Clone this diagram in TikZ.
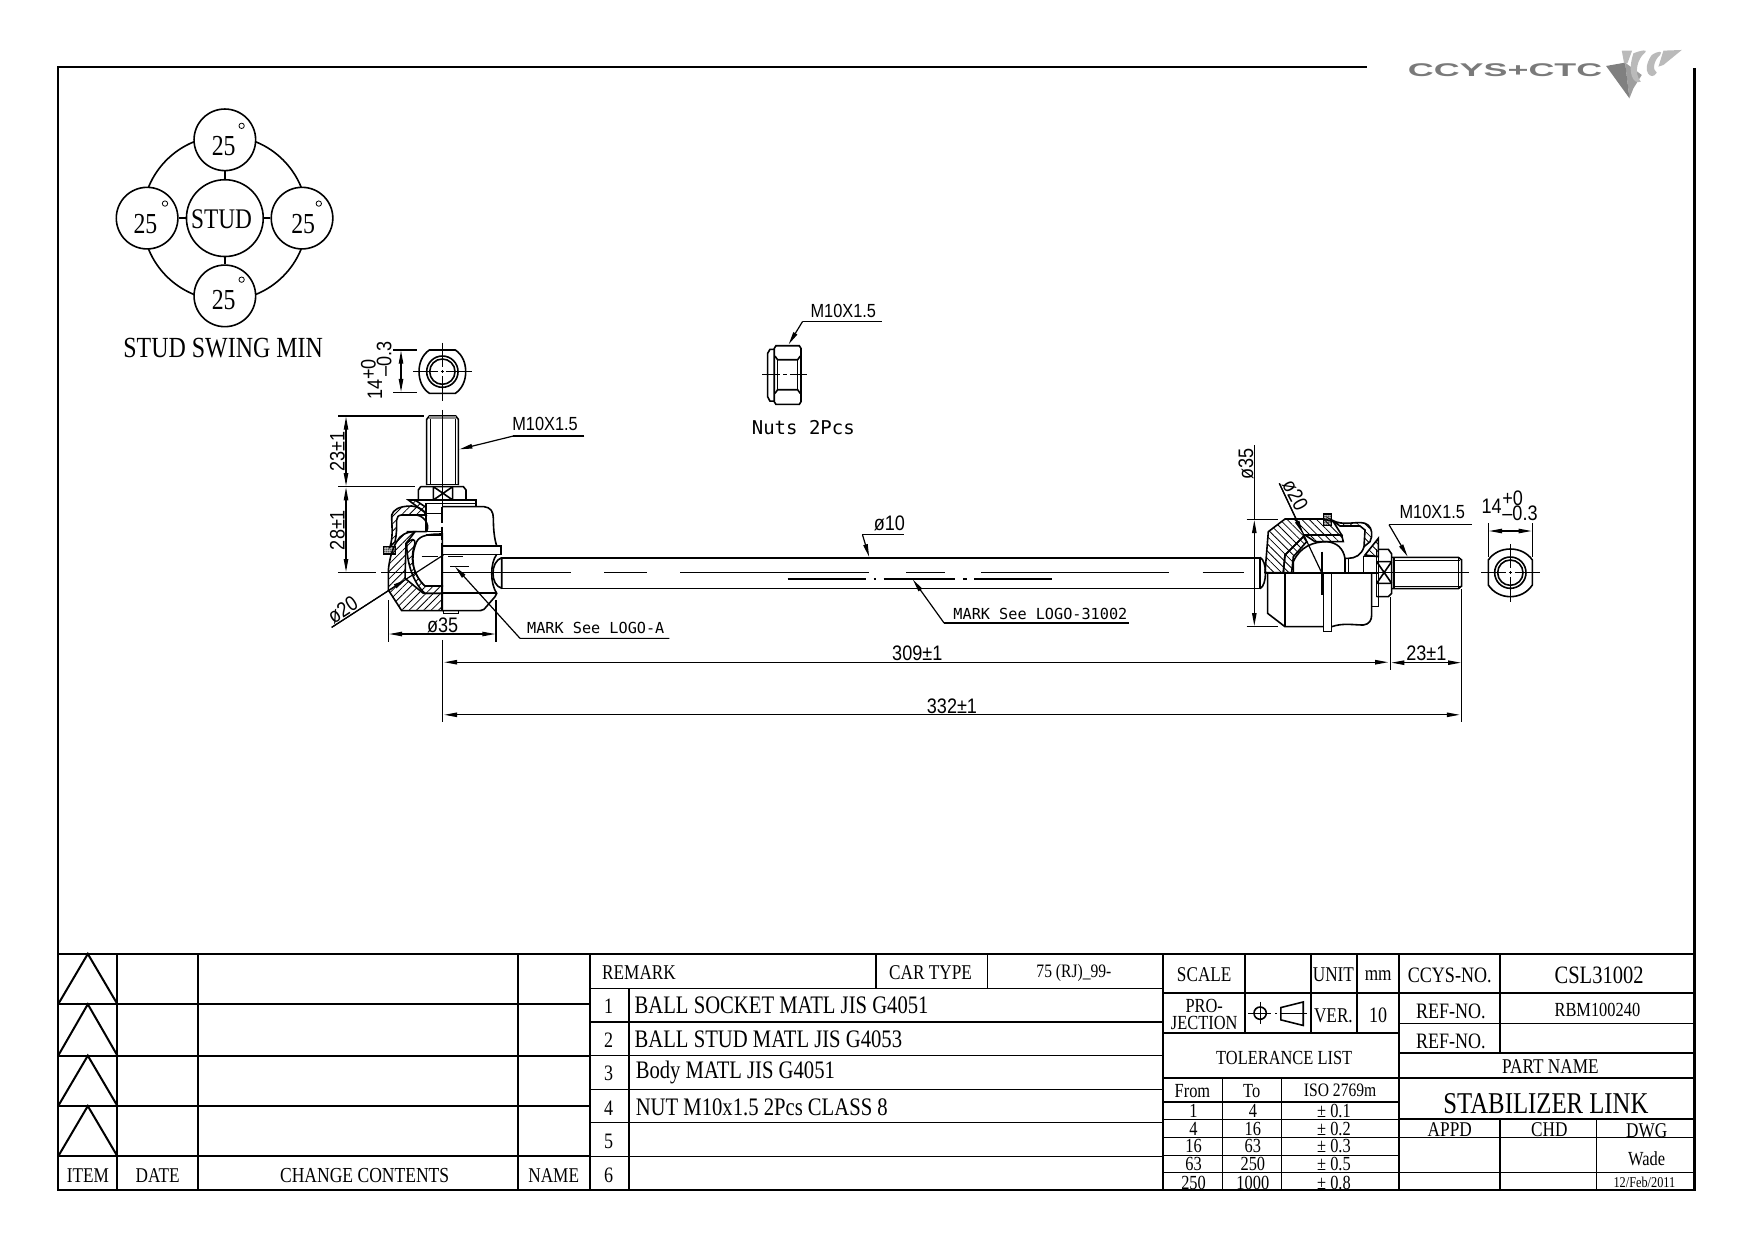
\documentclass[tikz,border=0pt]{standalone}
\usepackage{fontspec}
\setmainfont[FakeStretch=0.82]{Liberation Serif}
\newfontfamily\cadfont{DejaVu Sans Mono}
\newfontfamily\dimfont[FakeStretch=0.86]{Liberation Sans}
\newfontfamily\logofont[FakeStretch=1.95]{Liberation Sans}
\usetikzlibrary{arrows.meta,patterns,patterns.meta}
\tikzset{
 frameln/.style={line width=1.3pt,black},
 tbl/.style={line width=1pt,black},
 tblthin/.style={line width=.7pt,black},
 part/.style={line width=.8pt,black},
 thin part/.style={line width=.5pt,black},
 bold part/.style={line width=1pt,black},
 hatchA/.style={part,pattern={Lines[angle=45,distance=2.6pt,line width=.4pt]}},
 hatchB/.style={part,pattern={Lines[angle=-45,distance=2.6pt,line width=.4pt]}},
 sealfill/.style={draw=black,line width=.8pt,pattern={Lines[angle=0,distance=.9pt,line width=.55pt]}},
 dimln/.style={line width=.6pt,black},
 dimarr/.style={dimln,{Triangle[length=6.5pt,width=2.2pt]}-{Triangle[length=6.5pt,width=2.2pt]}},
 leadarr/.style={dimln,-{Triangle[length=6.5pt,width=2.2pt]}},
 centreln/.style={line width=.55pt,black},
 sz/.style={font=\fontsize{#1}{#1}\selectfont,inner sep=0pt},
 cad/.style={font=\dimfont\fontsize{#1}{#1}\selectfont,inner sep=0pt},
 mono/.style={font=\cadfont\fontsize{#1}{#1}\selectfont,inner sep=0pt},
 zoomA/.style={shift={(268.2,295)},scale=.298},
 zoomB/.style={shift={(1090.6,384.4)},scale=.298},
 zoomC/.style={shift={(643.6,259.3)},scale=.298},
 zoomD/.style={shift={(1251.6,26.8)},scale=.298},
 ring/.style={draw,circle,line width=.8pt,fill=white,inner sep=0pt},
}
\begin{document}
\begin{tikzpicture}[x=.55931pt,y=-.55931pt]
\useasboundingbox (0,0) rectangle (1568,1108.47);

% ---------- frame
\draw[frameln] (1222,60) -- (52,60) -- (52,1063.7) -- (1515,1063.7) -- (1515,61);
\draw[frameln] (52,852.7) -- (1515,852.7);

% ---------- logo
\begin{scope}[zoomD]
 \fill[black!38] (675,98) -- (725,135) -- (700,175) -- (688,205) -- cycle;
 \fill[black!50] (618,108) -- (675,98) -- (688,205) -- cycle;
 \fill[black!27] (665,62) -- (696,62) -- (682,100) -- (672,100) -- cycle;
 \fill[black!27] (700,70) .. controls (725,60) and (745,58) .. (735,68) .. controls (712,85) and (700,130) .. (722,155) .. controls (700,165) and (680,130) .. (700,70) -- cycle;
 \fill[black!27] (755,75) .. controls (775,62) and (790,62) .. (780,75) .. controls (762,90) and (755,120) .. (770,128) .. controls (755,155) and (720,125) .. (755,75) -- cycle;
 \fill[black!27] (790,62) -- (845,60) -- (790,105) -- (775,110) -- (785,78) -- cycle;
 \node[text=black!52,font=\logofont\bfseries\fontsize{9.2}{9.2}\selectfont,inner sep=0pt] (logotext) at (315,122) {CCYS+CTC};
\end{scope}

% ---------- stud swing
\draw[line width=.8pt] (201,195) circle[radius=73.6];
\node[ring,minimum size=38.4pt] (stud) at (201,195) {};
\node[ring,minimum size=30.8pt] (top) at (201,125) {};
\node[ring,minimum size=30.8pt] (bot) at (201,264.5) {};
\node[ring,minimum size=30.8pt] (lft) at (131.5,195) {};
\node[ring,minimum size=30.8pt] (rgt) at (270,195) {};
\draw[line width=.8pt] (stud) -- (top) (stud) -- (bot) (stud) -- (lft) (stud) -- (rgt);
\node[sz=14.2] (studtxt) at (198,196) {STUD};
\node[sz=14.5] (t25a) at (200,131) {25};
\node[sz=14.5] (t25b) at (200,268) {25};
\node[sz=14.5] (t25c) at (130,200) {25};
\node[sz=14.5] (t25d) at (271,200) {25};
\foreach \p in {(216,112.5),(216,250),(147.5,182),(285,182)}
  \draw[line width=.4pt] \p circle[radius=2.4];
\node[sz=14.6] (swing) at (199.5,311.5) {STUD SWING MIN};

% ---------- rod and main centre line
\draw[part] (448,499) -- (1126,499) (448,526) -- (1126,526);
\foreach \a/\b in {302/336,341/510,540/578,608/777,810/845,877/1045,1075/1112,1130/1313}
  \draw[centreln] (\a,512) -- (\b,512);
\foreach \a/\b in {704/774,781/783,790/854,861/864,871/940}
  \draw[centreln] (\a,517.6) -- (\b,517.6);

% ---------- left ball joint
\begin{scope}[zoomA]
 % top nut view
 \draw[part] (388,60) -- (466,60) .. controls (488,75) and (497,100) .. (497,125) .. controls (497,150) and (488,175) .. (466,190) -- (388,190) .. controls (366,175) and (357,150) .. (357,125) .. controls (357,100) and (366,75) .. (388,60) -- cycle;
 \draw[part] (427,125) circle[radius=47];
 \draw[part] (427,125) circle[radius=38];
 \draw[thin part] (340,125) -- (415,125) (422,125) -- (432,125) (439,125) -- (515,125);
 \draw[thin part] (427,38) -- (427,112) (427,120) -- (427,130) (427,138) -- (427,212);
 \draw[dimln] (280,60) -- (350,60) (280,188) -- (350,188);
 \draw[dimarr] (303,62) -- (303,186);
 \node[cad=10.5,rotate=90] (lt14) at (225,178) {14};
 \node[cad=10.5,rotate=90] (ltp) at (205,118) {+0};
 \node[cad=10.5,rotate=90] (ltm) at (252,88) {–0.3};
 % stud
 \draw[part] (380,465) -- (380,268) -- (388,258) -- (467,258) -- (475,268) -- (475,465);
 \fill[black!45] (386,259) rectangle (469,268);
 \draw[thin part] (390,268) -- (390,465) (465,268) -- (465,465) (380,462) -- (475,462);
 % nut and collar
 \draw[part] (362,470) -- (490,470) -- (498,480) -- (498,510) (355,510) -- (355,480) -- (362,470);
 \draw[part] (400,470) -- (400,510) (458,470) -- (458,510) (400,470) -- (458,510) (458,470) -- (400,510);
 \draw[part] (345,510) -- (528,510) -- (528,530);
 \draw[hatchA] (325,510) -- (345,510) -- (378,532) -- (378,550) -- cycle;
 % outside half
 \draw[part] (427,530) -- (552,530) .. controls (572,532) and (580,545) .. (580,565) .. controls (580,600) and (583,625) .. (590,648);
 \draw[part,fill=white] (427,648) rectangle (603,673);
 \draw[part] (590,673) .. controls (570,700) and (570,760) .. (590,790) -- (585,800) -- (552,838) .. controls (545,842) and (540,842) .. (530,842) -- (427,842);
 \draw[bold part] (427,790) -- (590,790);
 \draw[part] (430,842) -- (430,850) -- (475,850) -- (475,842);
 % rod neck
 \draw[part] (605,683) .. controls (570,695) and (570,765) .. (605,775) (605,683) -- (605,775);
 % section half
 \draw[hatchA] (427,842) -- (305,842) -- (265,780) -- (265,720) .. controls (268,690) and (275,660) .. (290,635) .. controls (300,615) and (320,605) .. (345,605) -- (330,625) -- (318,640) -- (315,745) -- (370,790) -- (427,790) -- cycle;
 \draw[hatchA] (320,640) .. controls (320,700) and (340,760) .. (375,790) -- (427,790) -- (427,768) -- (375,768) .. controls (335,730) and (330,680) .. (345,640) .. controls (345,625) and (335,625) .. (320,640) -- cycle;
 \draw[part,fill=white] (427,612) .. controls (390,612) and (360,615) .. (350,635) .. controls (330,680) and (335,730) .. (375,768) -- (427,768) -- cycle;
 \draw[hatchA] (275,555) .. controls (280,540) and (295,528) .. (335,528) .. controls (355,530) and (375,540) .. (378,555) -- (350,555) -- (305,555) .. controls (295,555) and (290,562) .. (290,570) .. controls (290,590) and (290,615) .. (285,635) -- (270,650) .. controls (280,620) and (275,590) .. (275,555) -- cycle;
 \draw[part] (350,555) .. controls (380,560) and (390,595) .. (378,605) -- (320,605);
 \draw[part] (378,520) -- (528,520) (378,520) -- (378,605) -- (427,605) (378,615) -- (427,615) (378,550) -- (427,550);
 \draw[sealfill] (250,650) rectangle (287,672);
 \draw[bold part] (427,530) -- (427,580) (427,590) -- (427,630) (427,640) -- (427,842);
 \draw[thin part] (427,240) -- (427,530);
 \draw[thin part] (365,678) -- (413,678) (445,678) -- (490,678) (450,710) -- (507,710);
 % dimensions
 \draw[dimln] (115,258) -- (372,258) (115,470) -- (345,470);
 \draw[dimarr] (138,260) -- (138,468);
 \draw[dimarr] (138,472) -- (138,726);
 \node[cad=10.5,rotate=90] (d23a) at (112,365) {23±1};
 \node[cad=10.5,rotate=90] (d28) at (112,600) {28±1};
 \coordinate (la) at (478,358); \coordinate (lb) at (640,318); \coordinate (lc) at (853,318);
 \draw[dimln] (lc) -- (lb); \draw[leadarr] (lb) -- (la);
 \node[cad=9.5] (m10a) at (735,283) {M10X1.5};
 \coordinate (fa) at (95,892); \coordinate (fb) at (430,675); \coordinate (fc) at (318,748);
 \draw[dimln] (fa) -- (fb); \draw[leadarr] (fa) -- (fc);
 \node[cad=10.5,rotate=33] (f20a) at (128,840) {ø20};
 \draw[dimln] (265,810) -- (265,935) (588,810) -- (588,935);
 \draw[dimarr] (267,912) -- (586,912);
 \node[cad=10.5] (f35a) at (428,885) {ø35};
 \coordinate (ma) at (465,710); \coordinate (mb) at (660,925);
 \draw[leadarr] (mb) -- (ma);
 \draw[dimln] (mb) -- (1108,925);
 \node[mono=7.6,anchor=west] (marka) at (680,893) {MARK See LOGO-A};
\end{scope}

% ---------- right ball joint
\begin{scope}[zoomB]
 % lower outside
 \draw[part] (143,428) -- (143,550) -- (195,590) -- (310,590);
 \draw[part] (195,428) -- (195,590);
 \draw[part,fill=white] (310,428) rectangle (335,605);
 \draw[part] (335,590) .. controls (370,578) and (400,585) .. (430,585) .. controls (448,583) and (455,570) .. (455,555) -- (455,428);
 % rod neck
 \draw[part] (120,382) .. controls (142,392) and (142,466) .. (120,476) (120,382) -- (120,476);
 % upper section
 \draw[hatchB] (135,428) -- (145,305) -- (195,267) -- (312,267) -- (340,275) -- (365,315) -- (255,315) -- (195,375) -- (190,428) -- cycle;
 \draw[hatchB] (190,428) -- (195,375) -- (250,320) -- (260,335) -- (220,380) -- (215,428) -- cycle;
 \draw[hatchB] (255,315) -- (365,315) -- (370,335) -- (285,335) -- cycle;
 \draw[part] (220,428) -- (220,395) .. controls (240,350) and (280,335) .. (320,335) .. controls (350,337) and (370,355) .. (375,385) -- (375,428);
 \draw[hatchB] (335,270) .. controls (370,290) and (410,272) .. (435,280) .. controls (450,285) and (457,300) .. (455,320) -- (450,335) -- (432,350) -- (435,300) -- (420,288) -- (360,288) -- cycle;
 \draw[part] (432,350) .. controls (425,375) and (405,385) .. (385,385) -- (375,385);
 \draw[hatchB] (435,375) -- (475,325) -- (475,380) -- cycle;
 \draw[part] (385,385) -- (385,428) (430,380) -- (465,380) (430,380) -- (430,428) (475,380) -- (475,530) -- (455,530);
 \draw[sealfill] (310,252) rectangle (335,287);
 \draw[bold part] (135,428) -- (475,428);
 \draw[bold part] (305,365) -- (305,495);
 % nut
 \draw[part] (475,358) -- (505,358) -- (515,372) -- (515,490) -- (505,500) -- (470,500);
 \draw[part] (470,358) -- (470,500);
 \draw[part] (470,395) -- (515,395) (470,460) -- (515,460) (470,395) -- (515,460) (515,395) -- (470,460);
 % stud
 \draw[part] (515,382) -- (715,382) -- (725,390) -- (725,468) -- (715,476) -- (515,476);
 \draw[part] (522,382) -- (522,476) (522,392) -- (720,392) (522,470) -- (720,470) (715,382) -- (715,476);
 % end nut view
 \draw[part] (805,390) .. controls (820,368) and (845,357) .. (871,357) .. controls (897,357) and (922,368) .. (937,390) -- (937,465) .. controls (922,488) and (897,500) .. (871,500) .. controls (845,500) and (820,488) .. (805,465) -- cycle;
 \draw[part] (871,428) circle[radius=47];
 \draw[part] (871,428) circle[radius=38];
 \draw[thin part] (783,428) -- (858,428) (866,428) -- (876,428) (884,428) -- (960,428);
 \draw[thin part] (871,342) -- (871,415) (871,423) -- (871,433) (871,441) -- (871,515);
 % dimensions
 \draw[dimln] (80,268) -- (175,268) (80,590) -- (175,590);
 \draw[dimln] (103,45) -- (103,270);
 \draw[dimarr] (103,270) -- (103,588);
 \node[cad=10.5,rotate=90] (f35b) at (78,103) {ø35};
 \coordinate (ga) at (178,160); \coordinate (gb) at (305,428); \coordinate (gc) at (248,310);
 \draw[dimln] (ga) -- (gb); \draw[leadarr] (ga) -- (gc);
 \node[cad=10.5,rotate=-62] (f20b) at (226,195) {ø20};
 \coordinate (ha) at (755,284); \coordinate (hb) at (507,284); \coordinate (hc) at (563,380);
 \draw[dimln] (ha) -- (hb); \draw[leadarr] (hb) -- (hc);
 \node[cad=9.5] (m10b) at (637,247) {M10X1.5};
 \draw[dimln] (805,280) -- (805,380) (937,280) -- (937,380);
 \draw[dimarr] (807,303) -- (935,303);
 \node[cad=10.5] (rt14) at (815,229) {14};
 \node[cad=10.5] (rtp) at (878,204) {+0};
 \node[cad=10.5] (rtm) at (900,250) {–0.3};
 \draw[dimln] (512,500) -- (512,720) (725,478) -- (725,877);
 \node[cad=10.5] (d23b) at (619,671) {23±1};
 \draw[dimarr] (514,698) -- (723,698);
\end{scope}

% ---------- long dimensions
\draw[dimln] (395.4,572) -- (395.4,645);
\draw[dimarr] (397,592) -- (1241,592);
\draw[dimarr] (397,639) -- (1305,639);
\node[cad=10.5] (d309) at (820,584) {309±1};
\node[cad=10.5] (d332) at (851,631) {332±1};

% ---------- rod labels
\coordinate (ra) at (771,478); \coordinate (rb) at (777,498); \coordinate (rc) at (808,478);
\draw[dimln] (rc) -- (ra); \draw[leadarr] (ra) -- (rb);
\node[cad=10.5] (d10) at (795,468) {ø10};
\coordinate (sa) at (816,518); \coordinate (sb) at (844,557); \coordinate (sc) at (1009,557);
\draw[dimln] (sc) -- (sb); \draw[leadarr] (sb) -- (sa);
\node[mono=7.6,anchor=west] (markb) at (852,548.5) {MARK See LOGO-31002};

% ---------- loose nut
\begin{scope}[zoomC]
 \draw[part] (168,167) -- (238,167) -- (243,175) -- (243,335) -- (238,343) -- (168,343) -- (163,335) -- (163,175) -- cycle;
 \draw[part] (163,178) -- (150,178) -- (143,190) -- (143,320) -- (150,333) -- (163,333);
 \draw[part] (165,198) -- (173,209) -- (233,209) -- (241,198) (165,310) -- (173,299) -- (233,299) -- (241,310);
 \draw[part] (173,209) -- (173,299) (233,209) -- (233,299);
 \draw[thin part] (127,254) -- (180,254) (190,254) -- (200,254) (210,254) -- (260,254);
 \coordinate (na) at (485,94); \coordinate (nb) at (248,94); \coordinate (nc) at (206,163);
 \draw[dimln] (na) -- (nb); \draw[leadarr] (nb) -- (nc);
 \node[cad=9.5] (m10c) at (370,62) {M10X1.5};
 \node[mono=9.5] (nuts) at (250,413) {Nuts 2Pcs};
\end{scope}

\begin{scope}[yshift=-.4pt]
% ---------- title block: revision part
\foreach \y in {897,943,988,1033} \draw[tbl] (52,\y) -- (527,\y);
\foreach \x in {105,177,463,527} \draw[tbl] (\x,852) -- (\x,1063);
\foreach \a/\b in {852/897,897/943,943/988,988/1033}
  \draw[tbl] (52,\b) -- (78.5,\a) -- (105,\b);
\node[sz=10.5] (item) at (78.5,1050) {ITEM};
\node[sz=10.5] (date) at (141,1050) {DATE};
\node[sz=10.7] (change) at (326,1050) {CHANGE CONTENTS};
\node[sz=10.5] (name) at (495,1050) {NAME};

% ---------- title block: remarks
\draw[tblthin] (527,883) -- (1040,883);
\foreach \y in {913,943,973,1003,1033} \draw[tblthin] (527,\y) -- (1040,\y);
\draw[tbl] (562,883) -- (562,1063);
\draw[tbl] (783,852) -- (783,883);
\draw[tblthin] (883,852) -- (883,883);
\draw[tbl] (1040,852) -- (1040,1063);
\draw[tbl] (1251,852) -- (1251,1063);
\node[sz=10.5,anchor=west] (remark) at (538,869) {REMARK};
\node[sz=10.5,anchor=west] (cartype) at (794.5,869) {CAR TYPE};
\node[sz=9.5] (rj) at (960,869) {75 (RJ)\_99-};
\foreach \n/\y in {1/899,2/929,3/959,4/990,5/1020,6/1050}
  \node[sz=11] at (544,\y) {\n};
\node[sz=12.6,anchor=west] (p1) at (567,898) {BALL SOCKET MATL JIS G4051};
\node[sz=12.6,anchor=west] (p2) at (567,928) {BALL STUD MATL JIS G4053};
\node[sz=12.6,anchor=west] (p3) at (568,958) {Body MATL JIS G4051};
\node[sz=12.6,anchor=west] (p4) at (568,989) {NUT M10x1.5 2Pcs CLASS 8};

% ---------- title block: scale and tolerance
\draw[tbl] (1040,887) -- (1251,887);
\draw[tblthin] (1113,852) -- (1113,923);
\draw[tbl] (1172,852) -- (1172,923);
\draw[tblthin] (1213,852) -- (1213,923);
\draw[tbl] (1040,923) -- (1251,923);
\draw[tblthin] (1040,963) -- (1251,963);
\draw[tbl] (1040,984) -- (1251,984);
\foreach \y in {1000,1016,1032,1047.5} \draw[tblthin] (1040,\y) -- (1251,\y);
\draw[tblthin] (1093,963) -- (1093,1063) (1145.5,963) -- (1145.5,1063);
\node[sz=10.5] (scale) at (1076.5,871) {SCALE};
\node[sz=10.5] (unit) at (1192,871) {UNIT};
\node[sz=10.5] (mm) at (1232,871) {mm};
\node[sz=10] (pro) at (1076.5,899) {PRO-};
\node[sz=10] (ject) at (1076.5,914) {JECTION};
\node[sz=10.5] (ver) at (1192,907) {VER.};
\node[sz=11] (ten) at (1232,907) {10};
\draw[part] (1126.5,905) circle[radius=5.5];
\draw[thin part] (1126.5,895) -- (1126.5,915) (1116,905) -- (1136,905) (1140,905) -- (1142,905) (1144,905) -- (1168,905);
\draw[part] (1145,900) -- (1165,895) -- (1165,916) -- (1145,911) -- cycle;
\node[sz=10] (tol) at (1148,945) {TOLERANCE LIST};
\node[sz=10] (from) at (1066,975) {From};
\node[sz=10] (to) at (1119,975) {To};
\node[sz=9.5] (iso) at (1198,974) {ISO 2769m};
\foreach \f/\t/\v/\y in {1/4/0.1/992.5, 4/16/0.2/1008.5, 16/63/0.3/1024, 63/250/0.5/1040, 250/1000/0.8/1056.5}{
  \node[sz=10] at (1067,\y) {\f};
  \node[sz=10] at (1120,\y) {\t};
  \node[sz=10] at (1192.5,\y) {± \v};
}

% ---------- title block: identification
\draw[tbl] (1251,887) -- (1515,887);
\draw[tblthin] (1251,914) -- (1515,914);
\draw[tbl] (1251,941) -- (1515,941);
\draw[tblthin] (1251,963) -- (1515,963);
\draw[tbl] (1251,1000) -- (1515,1000);
\draw[tblthin] (1251,1016) -- (1515,1016) (1251,1047.5) -- (1515,1047.5);
\draw[tblthin] (1341,852) -- (1341,941) (1341,1000) -- (1341,1063) (1427,1000) -- (1427,1063);
\node[sz=11] (ccys) at (1296,871) {CCYS-NO.};
\node[sz=12.5] (csl) at (1429.5,871) {CSL31002};
\node[sz=11] (ref1) at (1297,903) {REF-NO.};
\node[sz=10] (rbm) at (1428,902) {RBM100240};
\node[sz=11] (ref2) at (1297,930) {REF-NO.};
\node[sz=10.5] (pn) at (1386,953) {PART NAME};
\node[sz=15.1] (stab) at (1382,985.5) {STABILIZER LINK};
\node[sz=10.5] (appd) at (1296,1009) {APPD};
\node[sz=10.5] (chd) at (1385,1009) {CHD};
\node[sz=10.5] (dwg) at (1472,1010) {DWG};
\node[sz=10] (wade) at (1472,1035) {Wade};
\node[sz=7.5] (fdate) at (1470,1056) {12/Feb/2011};
\end{scope}
\end{tikzpicture}
\end{document}
